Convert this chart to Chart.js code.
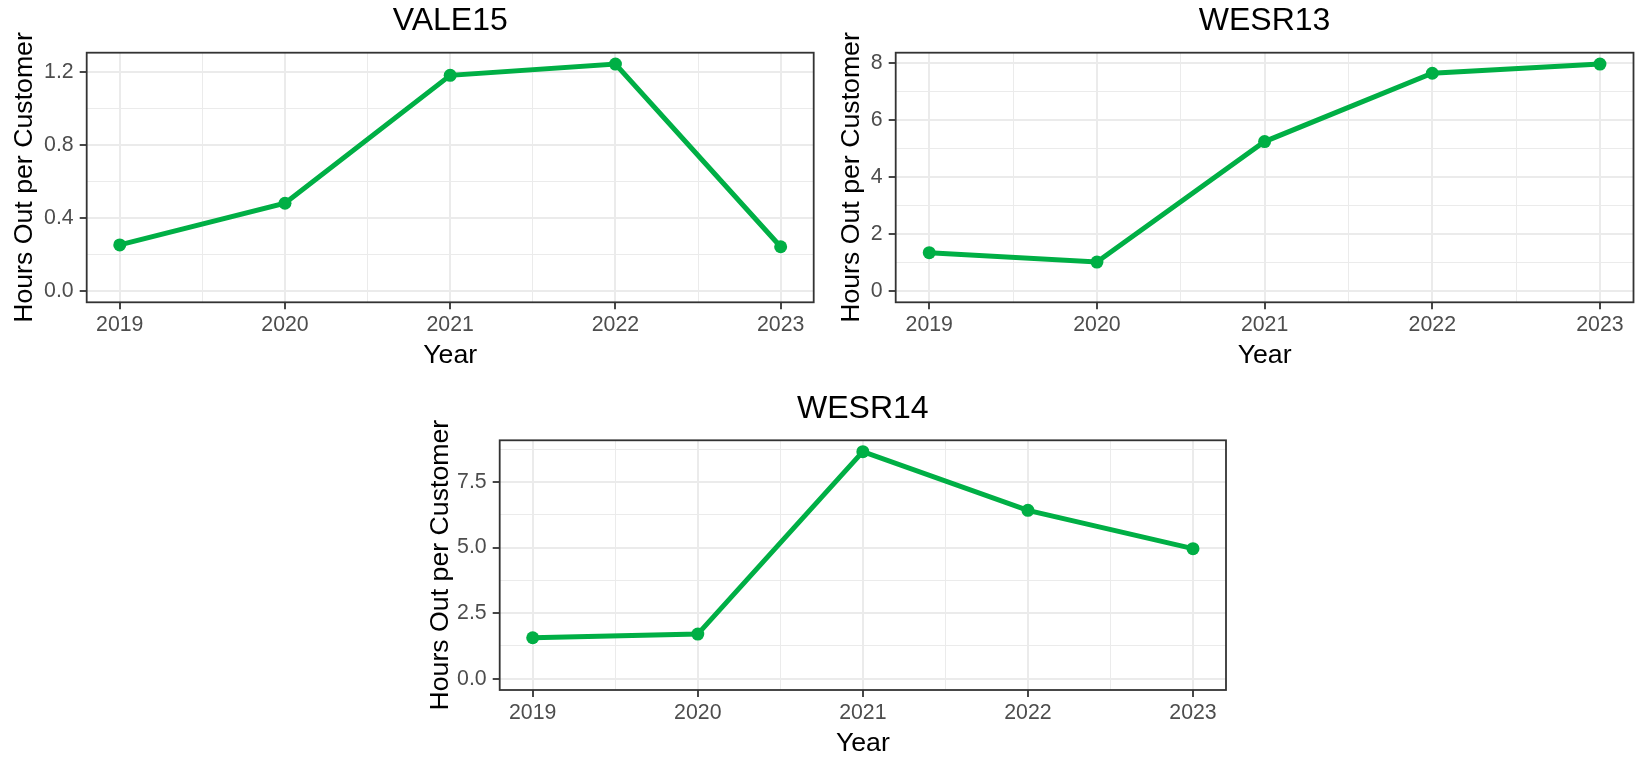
<!DOCTYPE html>
<html><head><meta charset="utf-8">
<script src="https://cdn.jsdelivr.net/npm/chart.js@4"></script>
<style>
html,body{margin:0;padding:0;background:#fff;overflow:hidden;width:1640px;height:759px;}
canvas{position:absolute;}
</style></head><body>
<canvas id="c1" style="left:0px;top:0px" width="830" height="378"></canvas>
<canvas id="c2" style="left:830px;top:0px" width="810" height="378"></canvas>
<canvas id="c3" style="left:420px;top:380px" width="830" height="382"></canvas>
<script>
// ---- data ----
const years = [2019, 2020, 2021, 2022, 2023];
const yearLabels = ['2019', '2020', '2021', '2022', '2023'];
const xMinor = [2019.5, 2020.5, 2021.5, 2022.5];

const titles = ['VALE15', 'WESR13', 'WESR14'];
const vale15 = [0.252, 0.48, 1.18, 1.242, 0.242];
const wesr13 = [1.345, 1.016, 5.25, 7.65, 7.974];
const wesr14 = [1.56, 1.70, 8.66, 6.42, 4.96];

const yTicks1 = [0, 0.4, 0.8, 1.2];
const yLabels1 = ['0.0', '0.4', '0.8', '1.2'];
const yMinor1 = [0.2, 0.6, 1.0];

const yTicks2 = [0, 2, 4, 6, 8];
const yLabels2 = ['0', '2', '4', '6', '8'];
const yMinor2 = [1, 3, 5, 7];

const yTicks3 = [0, 2.5, 5, 7.5];
const yLabels3 = ['0.0', '2.5', '5.0', '7.5'];
const yMinor3 = [1.25, 3.75, 6.25, 8.75];

const xTitle = 'Year';
const yTitle = 'Hours Out per Customer';

// ---- styling ----
const FONT = "'Liberation Sans', Arial, sans-serif";
const GREEN = '#00AF45';
const GRID = '#EBEBEB';
const DARK = '#333333';
const TICKTXT = '#4D4D4D';

const panelBorder = {
  id: 'panelBorder',
  afterDraw(chart) {
    const a = chart.chartArea, ctx = chart.ctx;
    ctx.save();
    ctx.strokeStyle = DARK;
    ctx.lineWidth = 1.8;
    ctx.strokeRect(a.left, a.top, a.right - a.left, a.bottom - a.top);
    ctx.restore();
  }
};

function near(list, v) { return list.findIndex(t => Math.abs(t - v) < 1e-9); }

function makeChart(id, title, values, yTicks, yLabels, yMinor, g) {
  const lo = Math.min(0, ...values), hi = Math.max(0, ...values);
  const span = hi - lo;
  const xs = years[years.length - 1] - years[0];
  const isMajorY = v => near(yTicks, v) >= 0;
  const isMajorX = v => near(years, v) >= 0;
  return new Chart(document.getElementById(id), {
    type: 'line',
    data: {
      datasets: [{
        data: years.map((y, i) => ({ x: y, y: values[i] })),
        borderColor: GREEN,
        backgroundColor: GREEN,
        borderWidth: 5,
        pointRadius: 6.5,
        pointBorderWidth: 0,
        pointBackgroundColor: GREEN,
        tension: 0,
        fill: false
      }]
    },
    options: {
      responsive: false,
      animation: false,
      devicePixelRatio: 1,
      layout: { padding: g.pad },
      plugins: {
        legend: { display: false },
        tooltip: { enabled: false },
        title: {
          display: true, text: title, fullSize: false, color: '#000',
          font: { family: FONT, size: 32, weight: 'normal', lineHeight: 1.2 },
          padding: g.titlePad
        }
      },
      scales: {
        x: {
          type: 'linear', position: 'bottom',
          min: years[0] - 0.05 * xs, max: years[years.length - 1] + 0.05 * xs,
          afterBuildTicks: s => { s.ticks = years.concat(xMinor).sort((a, b) => a - b).map(v => ({ value: v })); },
          afterFit: s => { s.height = g.xHeight; },
          border: { display: false },
          grid: {
            color: GRID,
            lineWidth: c => (c.tick && isMajorX(c.tick.value)) ? 2 : 1,
            tickLength: 7,
            tickWidth: 1.8,
            tickColor: c => (c.tick && isMajorX(c.tick.value)) ? DARK : 'rgba(0,0,0,0)'
          },
          ticks: {
            autoSkip: false, maxRotation: 0, padding: 3, color: TICKTXT,
            font: { family: FONT, size: 21.3 },
            callback: v => { const i = near(years, v); return i >= 0 ? yearLabels[i] : ''; }
          },
          title: {
            display: true, text: xTitle, color: '#000',
            font: { family: FONT, size: 26.7, lineHeight: 1.2 },
            padding: { top: 0, bottom: 1.6 }
          }
        },
        y: {
          type: 'linear', position: 'left',
          min: lo - 0.05 * span, max: hi + 0.05 * span,
          afterBuildTicks: s => { s.ticks = yTicks.concat(yMinor).sort((a, b) => a - b).map(v => ({ value: v })); },
          afterFit: s => { s.width = g.yWidth; },
          border: { display: false },
          grid: {
            color: GRID,
            lineWidth: c => (c.tick && isMajorY(c.tick.value)) ? 2 : 1,
            tickLength: 7,
            tickWidth: 1.8,
            tickColor: c => (c.tick && isMajorY(c.tick.value)) ? DARK : 'rgba(0,0,0,0)'
          },
          ticks: {
            autoSkip: false, padding: 6, color: TICKTXT,
            font: { family: FONT, size: 21.3 },
            callback: v => { const i = near(yTicks, v); return i >= 0 ? yLabels[i] : ''; }
          },
          title: {
            display: true, text: yTitle, color: '#000',
            font: { family: FONT, size: 26.7, lineHeight: 1.2 },
            padding: { top: g.yTitlePad, bottom: 0 }
          }
        }
      }
    },
    plugins: [panelBorder]
  });
}

makeChart('c1', titles[0], vale15, yTicks1, yLabels1, yMinor1, {
  pad: { left: 0, top: 0, right: 16.3, bottom: 4.7 },
  titlePad: { top: 2.2, bottom: 12.1 },
  yWidth: 86.7, xHeight: 71, yTitlePad: 8.4
});
makeChart('c2', titles[1], wesr13, yTicks2, yLabels2, yMinor2, {
  pad: { left: 0, top: 0, right: 1.3, bottom: 4.7 },
  titlePad: { top: 2.2, bottom: 12.1 },
  yWidth: 65.7, xHeight: 71, yTitlePad: 5.4
});
makeChart('c3', titles[2], wesr14, yTicks3, yLabels3, yMinor3, {
  pad: { left: 0, top: 0, right: 24, bottom: 1 },
  titlePad: { top: 9.9, bottom: 12 },
  yWidth: 79.7, xHeight: 71, yTitlePad: 4.4
});
</script>
</body></html>
